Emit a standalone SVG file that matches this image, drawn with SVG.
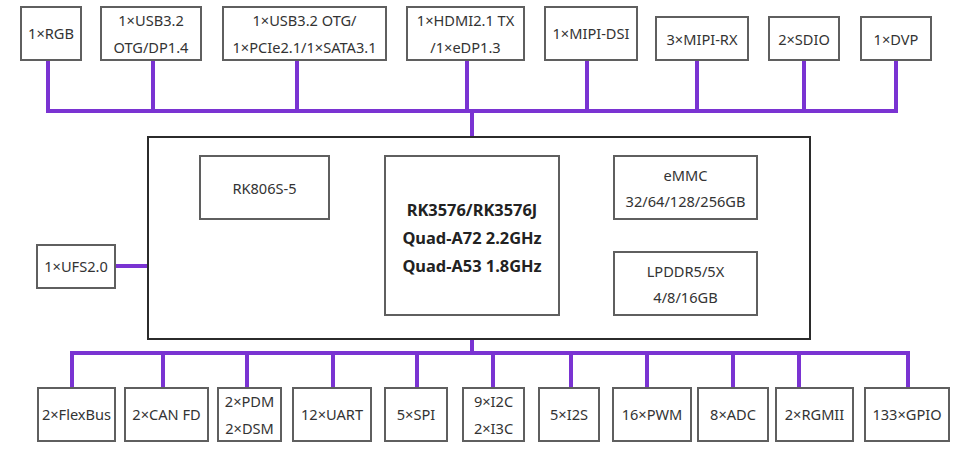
<svg xmlns="http://www.w3.org/2000/svg" width="964" height="456" viewBox="0 0 964 456">
<style>
.b{fill:#fff;stroke:#5f5f5f;stroke-width:2}
.m{fill:#fff;stroke:#2b2b2b;stroke-width:2}
.t{font-family:"Noto Sans","Open Sans",sans-serif;font-size:14.6px;fill:#333;text-anchor:middle;dominant-baseline:central}
.c{font-family:"Noto Sans","Open Sans",sans-serif;font-size:16.4px;font-weight:bold;fill:#222;text-anchor:middle;dominant-baseline:central}
.w{fill:none;stroke:#7a33d2;stroke-width:4;stroke-linecap:square;stroke-linejoin:miter}
</style>
<rect width="964" height="456" fill="#fff"/>
<g id="connectors">
<path class="w" d="M48 60V111H896V60M153 60V111M297 60V111M467 60V111M587 60V111M697 60V111M804 60V111"/>
<path class="w" d="M472 111V156"/>
<path class="w" d="M472 315V353"/>
<path class="w" d="M72 386V353H908V386M163 353V386M247 353V386M333 353V386M417 353V386M493 353V386M571 353V386M647 353V386M733 353V386M799 353V386"/>
<path class="w" d="M117 266H147"/>
</g>
<g id="main"><rect class="m" x="148" y="137" width="662" height="202"/></g>
<g id="pmic"><rect class="b" x="200" y="156" width="129" height="63"/><text class="t" x="264.5" y="188">RK806S-5</text></g>
<g id="cpu"><rect class="b" x="385" y="156" width="174" height="159"/>
<text class="c" x="472" y="209">RK3576/RK3576J</text>
<text class="c" x="472" y="237">Quad-A72 2.2GHz</text>
<text class="c" x="472" y="265">Quad-A53 1.8GHz</text></g>
<g id="emmc"><rect class="b" x="614" y="156" width="143" height="63"/><text class="t" x="685.5" y="175">eMMC</text><text class="t" x="685.5" y="201">32/64/128/256GB</text></g>
<g id="lpddr"><rect class="b" x="614" y="252" width="143" height="63"/><text class="t" x="685.5" y="271">LPDDR5/5X</text><text class="t" x="685.5" y="297">4/8/16GB</text></g>
<g id="ufs"><rect class="b" x="37" y="245" width="78" height="43"/><text class="t" x="76" y="266">1×UFS2.0</text></g>
<g id="rgb"><rect class="b" x="21" y="7" width="60" height="53"/><text class="t" x="51" y="33">1×RGB</text></g>
<g id="usb"><rect class="b" x="101" y="7" width="100" height="53"/><text class="t" x="151" y="20">1×USB3.2</text><text class="t" x="151" y="47">OTG/DP1.4</text></g>
<g id="pcie"><rect class="b" x="223" y="7" width="163" height="53"/><text class="t" x="304.5" y="20">1×USB3.2 OTG/</text><text class="t" x="304.5" y="47">1×PCIe2.1/1×SATA3.1</text></g>
<g id="hdmi"><rect class="b" x="407" y="7" width="117" height="53"/><text class="t" x="465.5" y="20">1×HDMI2.1 TX</text><text class="t" x="465.5" y="47">/1×eDP1.3</text></g>
<g id="dsi"><rect class="b" x="545" y="7" width="92" height="53"/><text class="t" x="591" y="33">1×MIPI-DSI</text></g>
<g id="rx"><rect class="b" x="656" y="17" width="92" height="43"/><text class="t" x="702" y="39">3×MIPI-RX</text></g>
<g id="sdio"><rect class="b" x="769" y="17" width="70" height="43"/><text class="t" x="804" y="39">2×SDIO</text></g>
<g id="dvp"><rect class="b" x="861" y="17" width="70" height="43"/><text class="t" x="896" y="39">1×DVP</text></g>
<g id="flexbus"><rect class="b" x="38" y="388" width="77" height="53"/><text class="t" x="76.5" y="414">2×FlexBus</text></g>
<g id="can"><rect class="b" x="125" y="388" width="83" height="53"/><text class="t" x="166.5" y="414">2×CAN FD</text></g>
<g id="pdm"><rect class="b" x="218" y="388" width="63" height="53"/><text class="t" x="249.5" y="401">2×PDM</text><text class="t" x="249.5" y="428">2×DSM</text></g>
<g id="uart"><rect class="b" x="293" y="388" width="78" height="53"/><text class="t" x="332" y="414">12×UART</text></g>
<g id="spi"><rect class="b" x="385" y="388" width="62" height="53"/><text class="t" x="416" y="414">5×SPI</text></g>
<g id="i2c"><rect class="b" x="463" y="388" width="61" height="53"/><text class="t" x="493.5" y="401">9×I2C</text><text class="t" x="493.5" y="428">2×I3C</text></g>
<g id="i2s"><rect class="b" x="539" y="388" width="60" height="53"/><text class="t" x="569" y="414">5×I2S</text></g>
<g id="pwm"><rect class="b" x="613" y="388" width="78" height="53"/><text class="t" x="652" y="414">16×PWM</text></g>
<g id="adc"><rect class="b" x="698" y="388" width="70" height="53"/><text class="t" x="733" y="414">8×ADC</text></g>
<g id="rgmii"><rect class="b" x="776" y="388" width="77" height="53"/><text class="t" x="814.5" y="414">2×RGMII</text></g>
<g id="gpio"><rect class="b" x="865" y="388" width="84" height="53"/><text class="t" x="907" y="414">133×GPIO</text></g>
</svg>
